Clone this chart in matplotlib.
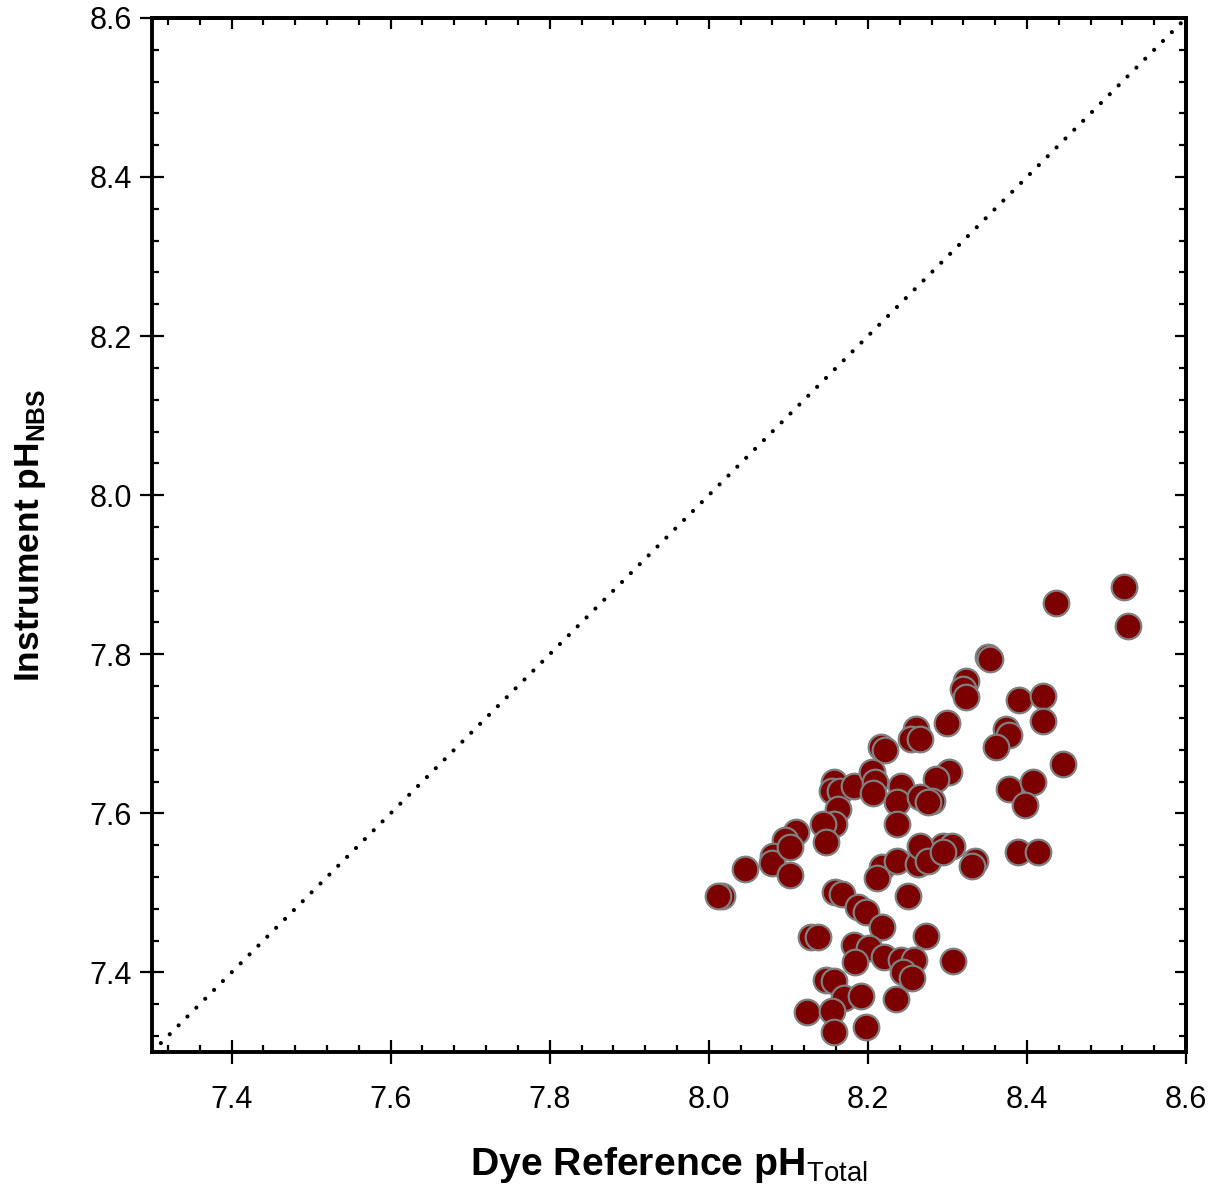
import matplotlib
matplotlib.use("Agg")
import matplotlib.pyplot as plt
from matplotlib.ticker import MultipleLocator

plt.rcParams['font.family'] = ['Liberation Sans', 'DejaVu Sans']
plt.rcParams['mathtext.fontset'] = 'custom'
plt.rcParams['mathtext.rm'] = 'Liberation Sans'
plt.rcParams['mathtext.bf'] = 'Liberation Sans:bold'

dye_ph = [
    8.522, 8.527, 8.436, 8.351, 8.354, 8.323, 8.320, 8.323, 8.390, 8.420,
    8.420, 8.300, 8.373, 8.377, 8.361, 8.445, 8.377, 8.407, 8.398, 8.302,
    8.285, 8.281, 8.295, 8.306, 8.389, 8.414, 8.335, 8.331, 8.260, 8.254,
    8.266, 8.216, 8.222, 8.158, 8.155, 8.165, 8.182, 8.205, 8.209, 8.207,
    8.241, 8.237, 8.266, 8.276, 8.237, 8.162, 8.157, 8.144, 8.147, 8.109,
    8.096, 8.081, 8.080, 8.102, 8.102, 8.046, 8.017, 8.011, 8.218, 8.212,
    8.237, 8.263, 8.266, 8.275, 8.250, 8.159, 8.168, 8.187, 8.197, 8.218,
    8.128, 8.137, 8.182, 8.201, 8.184, 8.220, 8.273, 8.307, 8.241, 8.258,
    8.244, 8.256, 8.147, 8.157, 8.170, 8.191, 8.235, 8.124, 8.155, 8.157,
    8.197, 8.295,
]
instrument_ph = [
    7.884, 7.835, 7.865, 7.796, 7.794, 7.766, 7.756, 7.746, 7.743, 7.747,
    7.716, 7.714, 7.706, 7.699, 7.683, 7.662, 7.630, 7.639, 7.611, 7.652,
    7.643, 7.615, 7.559, 7.559, 7.552, 7.552, 7.540, 7.534, 7.706, 7.693,
    7.693, 7.684, 7.680, 7.640, 7.628, 7.628, 7.634, 7.652, 7.639, 7.626,
    7.634, 7.614, 7.621, 7.614, 7.586, 7.605, 7.586, 7.586, 7.564, 7.577,
    7.567, 7.546, 7.538, 7.558, 7.523, 7.530, 7.496, 7.496, 7.533, 7.519,
    7.540, 7.536, 7.559, 7.540, 7.496, 7.501, 7.498, 7.482, 7.476, 7.457,
    7.444, 7.444, 7.435, 7.431, 7.413, 7.419, 7.446, 7.414, 7.416, 7.416,
    7.401, 7.393, 7.391, 7.389, 7.368, 7.370, 7.366, 7.350, 7.351, 7.325,
    7.331, 7.551,
]
axis_min, axis_max = 7.3, 8.6
major_ticks = [7.4, 7.6, 7.8, 8.0, 8.2, 8.4, 8.6]
tick_labels = ["7.4", "7.6", "7.8", "8.0", "8.2", "8.4", "8.6"]

fig = plt.figure(figsize=(12.14, 11.93), dpi=100)
ax = fig.add_axes([0.1252, 0.1182, 0.8518, 0.8668])

ax.plot([axis_min, axis_max], [axis_min, axis_max], color='black', lw=3,
        linestyle=(0, (0.01, 3.0)), dash_capstyle='round', zorder=2)
ax.scatter(dye_ph, instrument_ph, s=340, c='#7c0000', edgecolors='#808080',
           linewidths=1.6, zorder=3)

ax.set_xlim(axis_min, axis_max)
ax.set_ylim(axis_min, axis_max)
ax.xaxis.set_minor_locator(MultipleLocator(0.04))
ax.yaxis.set_minor_locator(MultipleLocator(0.04))
ax.set_xticks(major_ticks)
ax.set_yticks(major_ticks)
ax.set_xticklabels(tick_labels, fontsize=22)
ax.set_yticklabels(tick_labels, fontsize=22)

for sp in ax.spines.values():
    sp.set_linewidth(2.8)

ax.tick_params(which='major', direction='inout', length=17, width=1.6,
               top=False, right=False)
ax.tick_params(which='minor', direction='in', length=5, width=1.6,
               top=False, right=False)
ax.tick_params(axis='x', which='major', pad=15)
ax.tick_params(axis='y', which='major', pad=6)

secx = ax.secondary_xaxis('top')
secy = ax.secondary_yaxis('right')
for s, axis in ((secx, secx.xaxis), (secy, secy.yaxis)):
    axis.set_major_locator(MultipleLocator(0.2))
    axis.set_minor_locator(MultipleLocator(0.04))
    s.tick_params(which='major', direction='in', length=8, width=1.6)
    s.tick_params(which='minor', direction='in', length=5, width=1.6)
    axis.set_ticklabels([])
    for sp in s.spines.values():
        sp.set_linewidth(2.8)

ax.set_xlabel(r'Dye Reference pH$_{\mathrm{Total}}$', fontsize=28.3,
              fontweight='bold', labelpad=22)
ax.set_ylabel(r'Instrument pH$_{\mathbf{NBS}}$', fontsize=25.5,
              fontweight='bold', labelpad=30)

fig.savefig('out.png', dpi=100)
